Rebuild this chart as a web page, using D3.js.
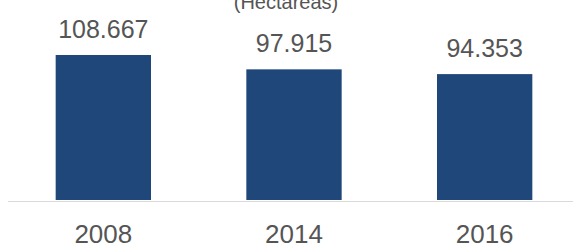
<!DOCTYPE html>
<html><head><meta charset="utf-8">
<script src="https://cdn.jsdelivr.net/npm/d3@7"></script>
<style>body{margin:0;background:#fff}svg{display:block}</style>
</head><body>
<svg id="c" width="573" height="246"></svg>
<script>
const categories = ["2008", "2014", "2016"];
const values = [108.667, 97.915, 94.353];
const valueLabels = ["108.667", "97.915", "94.353"];
const title = "(Hectáreas)";

const svg = d3.select("#c");
const x = d3.scaleBand().domain(categories).range([8, 580]).paddingInner(0.5).paddingOuter(0.25);
const y = d3.scaleLinear().domain([0, 108.667]).range([200, 55]);

svg.append("text").attr("x", 286).attr("y", 9).attr("text-anchor", "middle")
  .attr("font-family", "Liberation Sans, Arial, sans-serif").attr("font-size", 20)
  .attr("fill", "#555555").text(title);

svg.selectAll("rect.bar").data(values).enter().append("rect")
  .attr("x", (d, i) => x(categories[i])).attr("width", x.bandwidth())
  .attr("y", d => y(d)).attr("height", d => y(0) - y(d))
  .attr("fill", "#1f4779");

svg.append("line").attr("x1", 8).attr("x2", 573).attr("y1", 201.5).attr("y2", 201.5)
  .attr("stroke", "#d9d9d9").attr("stroke-width", 1.2);

svg.selectAll("text.val").data(values).enter().append("text")
  .attr("x", (d, i) => x(categories[i]) + x.bandwidth() / 2)
  .attr("y", d => y(d) - 17).attr("text-anchor", "middle")
  .attr("font-family", "Liberation Sans, Arial, sans-serif").attr("font-size", 25)
  .attr("fill", "#555555").text((d, i) => valueLabels[i]);

const xAxis = svg.append("g").attr("transform", "translate(0,201)")
  .call(d3.axisBottom(x).tickSize(0).tickPadding(0));
xAxis.select(".domain").remove();
xAxis.selectAll("text").attr("y", 42).attr("dy", null)
  .attr("font-family", "Liberation Sans, Arial, sans-serif").attr("font-size", 26)
  .attr("fill", "#555555");
</script>
</body></html>
